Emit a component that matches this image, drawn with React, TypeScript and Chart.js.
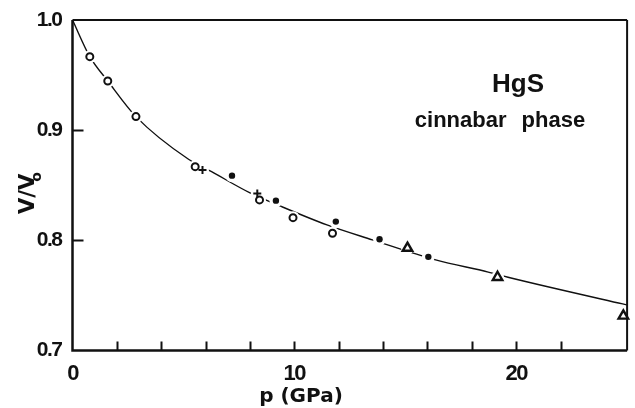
import React, { useEffect, useRef } from 'react';
import { Chart, registerables } from 'chart.js';

Chart.register(...registerables);

// Fitted compression curve of HgS (cinnabar phase), p in GPa, relative volume V/V0
const curvePressure = [0, 0.78, 1.59, 2.86, 5.23, 6.27, 7.98, 9.32, 11.47, 13.52, 16.37, 18.74, 19.63, 24.8, 25];
const curveVolume = [1.0, 0.9667, 0.9446, 0.9123, 0.8736, 0.8623, 0.8433, 0.8315, 0.814, 0.8004, 0.7822, 0.7712, 0.7665, 0.7423, 0.7414];

// Measured points, one set per run / symbol
const openCirclePressure = [0.78, 1.59, 2.86, 5.53, 8.43, 9.94, 11.72];
const openCircleVolume = [0.9667, 0.9446, 0.9123, 0.8669, 0.8367, 0.8206, 0.8064];
const dotPressure = [7.19, 9.17, 11.87, 13.84, 16.04];
const dotVolume = [0.8587, 0.836, 0.817, 0.801, 0.785];
const crossPressure = [5.86, 8.33];
const crossVolume = [0.8639, 0.8426];
const trianglePressure = [15.1, 19.16, 24.83];
const triangleVolume = [0.793, 0.7665, 0.7314];

const xTickLabels = ['0', '10', '20'];
const yTickLabels = ['0.7', '0.8', '0.9', '1.0'];

const INK = '#111';
const TICK_FONT = "'Liberation Sans', sans-serif";

const toPoints = (xs: number[], ys: number[]) => xs.map((x, i) => ({ x, y: ys[i] }));

// Tighter lettering for the tick numbers
const spacingPlugin = {
  id: 'tickSpacing',
  beforeDraw(chart: any) {
    (chart.ctx as any).letterSpacing = '-1.5px';
  },
  beforeDatasetsDraw(chart: any) {
    (chart.ctx as any).letterSpacing = '0px';
  },
};

// Frame with inward tick marks
const framePlugin = {
  id: 'frame',
  beforeDatasetsDraw(chart: any) {
    const { ctx, chartArea: a, scales } = chart;
    const xs = scales.x;
    const ys = scales.y;
    ctx.save();
    ctx.strokeStyle = INK;
    ctx.lineCap = 'butt';
    ctx.lineWidth = 2.5;
    ctx.beginPath();
    ctx.moveTo(a.left, a.top);
    ctx.lineTo(a.left, a.bottom);
    ctx.lineTo(a.right, a.bottom);
    ctx.stroke();
    ctx.lineWidth = 2.2;
    ctx.beginPath();
    ctx.moveTo(a.left, a.top);
    ctx.lineTo(a.right, a.top);
    ctx.stroke();
    ctx.lineWidth = 2;
    ctx.beginPath();
    ctx.moveTo(a.right, a.top);
    ctx.lineTo(a.right, a.bottom);
    ctx.stroke();

    ctx.lineWidth = 2;
    ctx.beginPath();
    xs.ticks.forEach((t: any) => {
      if (t.value > xs.min && t.value < xs.max && Math.round(t.value) % 2 === 0) {
        const px = Math.round(xs.getPixelForValue(t.value)) + 0.5;
        ctx.moveTo(px, a.bottom);
        ctx.lineTo(px, a.bottom - 9);
      }
    });
    ys.ticks.forEach((t: any) => {
      if (t.value > ys.min + 1e-6 && t.value < ys.max - 1e-6) {
        const py = Math.round(ys.getPixelForValue(t.value)) + 0.5;
        ctx.moveTo(a.left, py);
        ctx.lineTo(a.left + 11, py);
      }
    });
    ctx.stroke();
    ctx.restore();
  },
};

// Axis titles and the sample annotation
const textPlugin = {
  id: 'texts',
  afterDraw(chart: any) {
    const { ctx, scales } = chart;
    const xs = scales.x;
    ctx.save();
    (ctx as any).letterSpacing = '0px';
    ctx.fillStyle = INK;
    ctx.textBaseline = 'alphabetic';

    // x title
    ctx.font = "bold 20px 'DejaVu Sans'";
    ctx.textAlign = 'center';
    ctx.fillText('p (GPa)', xs.getPixelForValue(10.3), 402);

    // y title, rotated, with subscript
    ctx.save();
    ctx.translate(34, 214);
    ctx.rotate(-Math.PI / 2);
    ctx.textAlign = 'left';
    ctx.font = "bold 21px 'DejaVu Sans'";
    ctx.fillText('V/V', 0, 0);
    const w = ctx.measureText('V/V').width;
    ctx.font = "bold 14px 'DejaVu Sans'";
    ctx.fillText('o', w - 8, 7);
    ctx.restore();

    // annotation
    ctx.textAlign = 'center';
    ctx.font = "bold 26px 'Liberation Sans'";
    ctx.fillText('HgS', 518, 92);
    ctx.font = "bold 22px 'Liberation Sans'";
    if ('wordSpacing' in ctx) (ctx as any).wordSpacing = '9px';
    ctx.fillText('cinnabar phase', 500, 127);
    ctx.restore();
  },
};

export default function App() {
  const ref = useRef<HTMLCanvasElement>(null);

  useEffect(() => {
    document.body.style.margin = '0';
    const canvas = ref.current;
    if (!canvas) return;

    const markers = [
      ...toPoints(openCirclePressure, openCircleVolume),
      ...toPoints(dotPressure, dotVolume),
      ...toPoints(crossPressure, crossVolume),
      ...toPoints(trianglePressure.slice(0, -1), triangleVolume.slice(0, -1)),
    ];

    const chart = new Chart(canvas, {
      type: 'scatter',
      data: {
        datasets: [
          {
            label: 'fit',
            data: toPoints(curvePressure, curveVolume),
            showLine: true,
            borderColor: INK,
            borderWidth: 1.4,
            pointRadius: 0,
            cubicInterpolationMode: 'monotone',
            order: 4,
          },
          {
            // white clearance around symbols so the curve stops short of them
            label: 'clearance',
            data: markers,
            pointRadius: 6.5,
            pointBackgroundColor: '#fff',
            pointBorderWidth: 0,
            borderColor: '#fff',
            order: 3,
          },
          {
            label: 'open circles',
            data: toPoints(openCirclePressure, openCircleVolume),
            pointStyle: 'circle',
            pointRadius: 3.5,
            pointBorderWidth: 2,
            pointBackgroundColor: '#fff',
            pointBorderColor: INK,
            order: 1,
          },
          {
            label: 'dots',
            data: toPoints(dotPressure, dotVolume),
            pointStyle: 'circle',
            pointRadius: 3.2,
            pointBorderWidth: 0,
            pointBackgroundColor: INK,
            pointBorderColor: INK,
            order: 1,
          },
          {
            label: 'crosses',
            data: toPoints(crossPressure, crossVolume),
            pointStyle: 'cross',
            pointRadius: 4,
            pointBorderWidth: 2,
            pointBorderColor: INK,
            order: 1,
          },
          {
            label: 'triangles',
            data: toPoints(trianglePressure, triangleVolume),
            pointStyle: 'triangle',
            pointRadius: 5.5,
            pointBorderWidth: 2.4,
            pointBackgroundColor: '#fff',
            pointBorderColor: INK,
            clip: false,
            order: 1,
          },
        ],
      },
      options: {
        animation: false,
        responsive: false,
        devicePixelRatio: 1,
        events: [],
        layout: { padding: { top: 20, right: 2, left: 0, bottom: 0 } },
        plugins: {
          legend: { display: false },
          tooltip: { enabled: false },
          title: { display: false },
        },
        scales: {
          x: {
            type: 'linear',
            min: 0,
            max: 25,
            afterFit: (s: any) => {
              s.height = 57.5;
            },
            grid: { display: false },
            border: { display: false },
            ticks: {
              stepSize: 2,
              autoSkip: false,
              maxRotation: 0,
              padding: 2,
              color: INK,
              font: { family: TICK_FONT, size: 22, weight: 'bold' },
              callback: (v: any) => (xTickLabels.includes(String(v)) ? String(v) : ''),
            },
          },
          y: {
            type: 'linear',
            min: 0.7,
            max: 1.0,
            afterFit: (s: any) => {
              s.width = 72.5;
            },
            grid: { display: false },
            border: { display: false },
            ticks: {
              stepSize: 0.1,
              autoSkip: false,
              padding: 3,
              color: INK,
              font: { family: TICK_FONT, size: 21, weight: 'bold' },
              callback: (v: any) => {
                const s = Number(v).toFixed(1);
                return yTickLabels.includes(s) ? s : '';
              },
            },
          },
        },
      },
      plugins: [spacingPlugin, framePlugin, textPlugin],
    } as any);

    return () => chart.destroy();
  }, []);

  return (
    <div style={{ width: 635, height: 408, background: '#fff' }}>
      <canvas ref={ref} width={635} height={408} style={{ display: 'block' }} />
    </div>
  );
}
